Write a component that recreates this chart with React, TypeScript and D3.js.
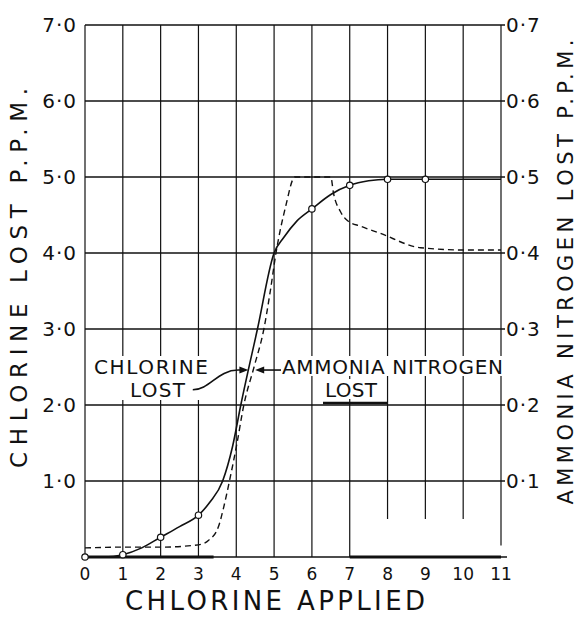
import React from 'react';
import * as d3 from 'd3';

// axis ticks
const xTicks = [0, 1, 2, 3, 4, 5, 6, 7, 8, 9, 10, 11];
const xTickLabels = ['0', '1', '2', '3', '4', '5', '6', '7', '8', '9', '10', '11'];
const leftTicks = [1, 2, 3, 4, 5, 6, 7];
const leftTickLabels = ['1·0', '2·0', '3·0', '4·0', '5·0', '6·0', '7·0'];
const rightTicks = [0.1, 0.2, 0.3, 0.4, 0.5, 0.6, 0.7];
const rightTickLabels = ['0·1', '0·2', '0·3', '0·4', '0·5', '0·6', '0·7'];
// where each vertical grid line stops (in left-axis units)
const gridStop = [0, 0, 0, 0, 0, 0, 0, 0, 0.5, 0.5, 0.5, 0.15];

// chlorine lost curve (left axis)
const chlorineApplied = [0, 0.5, 1, 1.5, 2, 2.5, 3, 3.3, 3.64, 3.9, 4.12, 4.56, 5.0, 5.25, 5.6, 6, 6.5, 7, 7.5, 8, 9, 10, 11];
const chlorineLost = [0, 0.0, 0.03, 0.12, 0.26, 0.4, 0.55, 0.72, 1.0, 1.45, 2.0, 3.0, 4.0, 4.2, 4.42, 4.58, 4.77, 4.89, 4.95, 4.97, 4.97, 4.97, 4.97];
const markerApplied = [0, 1, 2, 3, 6, 7, 8, 9];
const markerLost = [0, 0.03, 0.26, 0.55, 4.58, 4.89, 4.97, 4.97];

// ammonia nitrogen lost curve (right axis)
const ammoniaApplied = [0, 1, 2, 3, 3.27, 3.53, 3.67, 3.82, 4.02, 4.2, 4.47, 4.73, 4.9, 5.05, 5.3, 5.55, 6.0, 6.5, 6.57, 6.75, 6.93, 7.3, 7.8, 8.87, 10, 11];
const ammoniaLost = [0.012, 0.013, 0.013, 0.016, 0.022, 0.04, 0.066, 0.1, 0.15, 0.2, 0.25, 0.3, 0.35, 0.4, 0.46, 0.5, 0.5, 0.5, 0.479, 0.455, 0.443, 0.435, 0.426, 0.407, 0.404, 0.404];

const FONT = '"DejaVu Sans", sans-serif';

export default function App() {
  const W = 578;
  const H = 618;
  const x = d3.scaleLinear().domain([0, 11]).range([85, 501]);
  const yL = d3.scaleLinear().domain([0, 7]).range([557, 25]);
  const yR = d3.scaleLinear().domain([0, 0.7]).range([557, 25]);

  const chlorineLine = d3.line<number>()
    .x((d, i) => x(chlorineApplied[i]))
    .y(d => yL(d))
    .curve(d3.curveMonotoneX);
  const ammoniaLine = d3.line<number>()
    .x((d, i) => x(ammoniaApplied[i]))
    .y(d => yR(d))
    .curve(d3.curveMonotoneX);

  const ink = '#111';

  return (
    <div style={{ position: 'absolute', left: 0, top: 0 }}>
      <svg width={W} height={H} style={{ display: 'block', background: '#fff' }}>
        {/* horizontal grid */}
        {leftTicks.map(t => (
          <line key={'h' + t} x1={x(0)} x2={x(11) + 4} y1={yL(t)} y2={yL(t)} stroke={ink} strokeWidth={1.3} />
        ))}
        {/* vertical grid */}
        {xTicks.map((t, i) => (
          <line key={'v' + t} x1={x(t)} x2={x(t)} y1={yL(7)} y2={yL(gridStop[i])} stroke={ink} strokeWidth={1.2} />
        ))}
        {/* base line */}
        <line x1={x(0)} x2={x(11) + 6} y1={yL(0)} y2={yL(0)} stroke={ink} strokeWidth={1.3} />
        <line x1={x(0)} x2={x(3.4)} y1={yL(0)} y2={yL(0)} stroke={ink} strokeWidth={3.2} />
        <line x1={x(7)} x2={x(11)} y1={yL(0)} y2={yL(0)} stroke={ink} strokeWidth={3.2} />

        {/* curves */}
        <path d={ammoniaLine(ammoniaLost) || ''} fill="none" stroke={ink} strokeWidth={1.4} strokeDasharray="6 4" />
        <path d={chlorineLine(chlorineLost) || ''} fill="none" stroke={ink} strokeWidth={1.6} />
        {markerApplied.map((a, i) => (
          <circle key={'m' + a} cx={x(a)} cy={yL(markerLost[i])} r={3.2} fill="#fff" stroke={ink} strokeWidth={1.2} />
        ))}

        {/* left tick labels */}
        {leftTicks.map((t, i) => (
          <text key={'l' + t} x={77} y={yL(t) + 7} textAnchor="end" fontFamily={FONT} fontSize={20} fill={ink} letterSpacing={1}>
            {leftTickLabels[i]}
          </text>
        ))}
        {/* right tick labels */}
        {rightTicks.map((t, i) => (
          <text key={'r' + t} x={506} y={yR(t) + 7} textAnchor="start" fontFamily={FONT} fontSize={20} fill={ink} letterSpacing={1}>
            {rightTickLabels[i]}
          </text>
        ))}
        {/* bottom tick labels */}
        {xTicks.map((t, i) => (
          <text key={'b' + t} x={x(t)} y={580} textAnchor="middle" fontFamily={FONT} fontSize={17} fill={ink}>
            {xTickLabels[i]}
          </text>
        ))}

        {/* axis titles */}
        <text transform="translate(27,278) rotate(-90)" textAnchor="middle" fontFamily={FONT} fontSize={23} fill={ink}
          textLength={380} lengthAdjust="spacing">CHLORINE LOST P.P.M.</text>
        <text transform="translate(573,272) rotate(-90)" textAnchor="middle" fontFamily={FONT} fontSize={21} fill={ink}
          textLength={465} lengthAdjust="spacing">AMMONIA NITROGEN LOST P.P.M.</text>
        <text x={275} y={610} textAnchor="middle" fontFamily={FONT} fontSize={26} fill={ink}
          textLength={300} lengthAdjust="spacing">CHLORINE APPLIED</text>

        {/* annotations */}
        <rect x={92} y={356} width={118} height={44} fill="#fff" />
        <rect x={280} y={356} width={222} height={20} fill="#fff" />
        <rect x={322} y={379} width={58} height={20} fill="#fff" />
        <text x={94} y={374} fontFamily={FONT} fontSize={20} fill={ink} textLength={114} lengthAdjust="spacing">CHLORINE</text>
        <text x={130} y={397} fontFamily={FONT} fontSize={20} fill={ink} textLength={55} lengthAdjust="spacing">LOST</text>
        <path d={`M${x(2.85)},${yL(2.2)} C${x(3.3)},${yL(2.2)} ${x(3.5)},${yL(2.46)} ${x(4.05)},${yL(2.46)} L${x(4.2)},${yL(2.46)}`}
          fill="none" stroke={ink} strokeWidth={1.6} />
        <path d={`M${x(4.32)},${yL(2.46)} l-9,-3.5 l0,7 z`} fill={ink} />
        <text x={282} y={374} fontFamily={FONT} fontSize={20} fill={ink} textLength={221} lengthAdjust="spacing">AMMONIA NITROGEN</text>
        <text x={325} y={397} fontFamily={FONT} fontSize={20} fill={ink} textLength={52} lengthAdjust="spacing">LOST</text>
        <line x1={323} x2={388} y1={403} y2={403} stroke={ink} strokeWidth={2.6} />
        <line x1={x(4.65)} x2={281} y1={yL(2.46)} y2={yL(2.46)} stroke={ink} strokeWidth={1.6} />
        <path d={`M${x(4.5)},${yL(2.46)} l9,-3.5 l0,7 z`} fill={ink} />
      </svg>
    </div>
  );
}
